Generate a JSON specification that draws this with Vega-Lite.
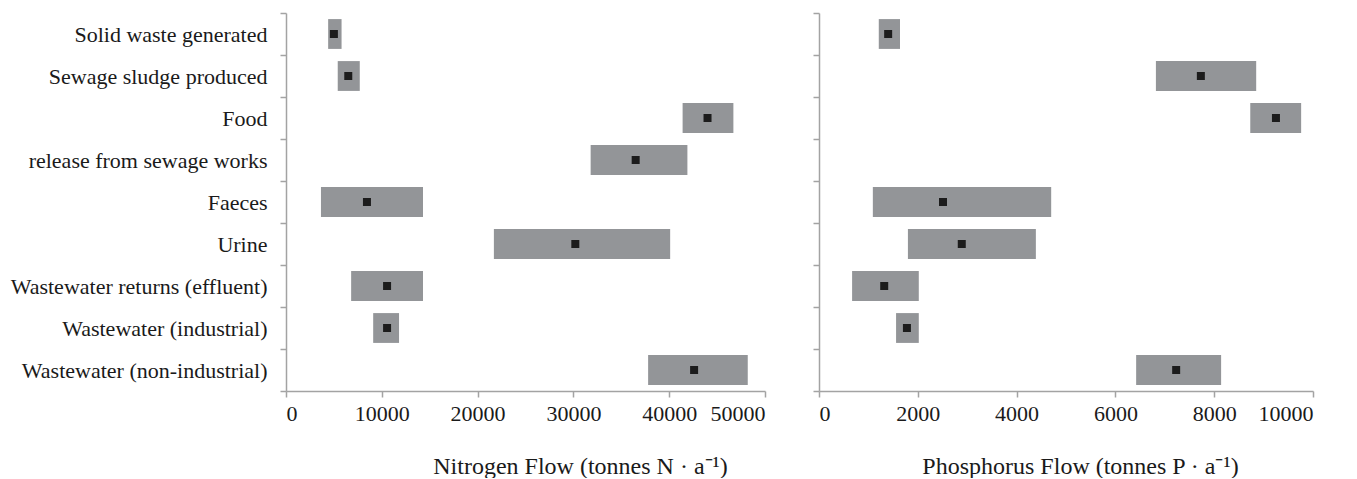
{
  "$schema": "https://vega.github.io/schema/vega-lite/v6.json",
  "background": "white",
  "padding": {"left": 10, "top": 2, "right": 5, "bottom": 0},
  "bounds": "flush",
  "spacing": 54,
  "config": {
    "view": {"stroke": null},
    "font": "Liberation Serif",
    "axis": {
      "grid": false,
      "domainColor": "#a3a3a3",
      "domainWidth": 1.5,
      "tickColor": "#a3a3a3",
      "tickWidth": 1.5,
      "tickSize": 6,
      "labelColor": "#1a1a1a",
      "labelFont": "Liberation Serif",
      "labelFontSize": 22,
      "titleFont": "Liberation Serif",
      "titleColor": "#1a1a1a",
      "titleFontSize": 24,
      "titleFontWeight": "normal"
    }
  },
  "data": {
    "values": [
      {"cat": "Solid waste generated", "n_lo": 4400, "n_mid": 5000, "n_hi": 5800, "p_lo": 1210, "p_mid": 1400, "p_hi": 1640},
      {"cat": "Sewage sludge produced", "n_lo": 5400, "n_mid": 6500, "n_hi": 7700, "p_lo": 6820, "p_mid": 7730, "p_hi": 8850},
      {"cat": "Food\u00a0", "n_lo": 41400, "n_mid": 44000, "n_hi": 46700, "p_lo": 8730, "p_mid": 9250, "p_hi": 9760},
      {"cat": "release from sewage works", "n_lo": 31800, "n_mid": 36500, "n_hi": 41900, "p_lo": null, "p_mid": null, "p_hi": null},
      {"cat": "Faeces", "n_lo": 3650, "n_mid": 8450, "n_hi": 14300, "p_lo": 1090, "p_mid": 2510, "p_hi": 4700},
      {"cat": "Urine", "n_lo": 21700, "n_mid": 30200, "n_hi": 40100, "p_lo": 1800, "p_mid": 2890, "p_hi": 4390},
      {"cat": "Wastewater returns (effluent)", "n_lo": 6800, "n_mid": 10550, "n_hi": 14300, "p_lo": 670, "p_mid": 1320, "p_hi": 2020},
      {"cat": "Wastewater (industrial)", "n_lo": 9100, "n_mid": 10550, "n_hi": 11800, "p_lo": 1560, "p_mid": 1780, "p_hi": 2020},
      {"cat": "Wastewater (non-industrial)", "n_lo": 37800, "n_mid": 42600, "n_hi": 48200, "p_lo": 6420, "p_mid": 7230, "p_hi": 8140}
    ]
  },
  "hconcat": [
    {
      "width": 479,
      "height": 378,
      "layer": [
        {
          "mark": {"type": "bar", "color": "#939598", "height": {"band": 0.71}},
          "encoding": {
            "y": {
              "field": "cat", "type": "nominal", "sort": null,
              "scale": {"domain": ["Solid waste generated", "Sewage sludge produced", "Food\u00a0", "release from sewage works", "Faeces", "Urine", "Wastewater returns (effluent)", "Wastewater (industrial)", "Wastewater (non-industrial)"], "paddingInner": 0, "paddingOuter": 0},
              "axis": {"title": null, "tickBand": "extent", "labelPadding": 13, "labelLimit": 400}
            },
            "x": {
              "field": "n_lo", "type": "quantitative",
              "scale": {"domain": [0, 50000], "nice": false},
              "axis": {"values": [0, 10000, 20000, 30000, 40000, 50000], "format": "d", "labelPadding": 6, "title": "Nitrogen Flow (tonnes N · a⁻¹)", "titleX": 294, "titleY": 82, "titleBaseline": "alphabetic"}
            },
            "x2": {"field": "n_hi"}
          }
        },
        {
          "mark": {"type": "point", "shape": "square", "filled": true, "size": 64, "color": "#1c1c1c", "opacity": 1},
          "encoding": {
            "y": {"field": "cat", "type": "nominal", "sort": null},
            "x": {"field": "n_mid", "type": "quantitative"}
          }
        }
      ]
    },
    {
      "width": 494,
      "height": 378,
      "layer": [
        {
          "mark": {"type": "bar", "color": "#939598", "height": {"band": 0.71}},
          "encoding": {
            "y": {
              "field": "cat", "type": "nominal", "sort": null,
              "scale": {"domain": ["Solid waste generated", "Sewage sludge produced", "Food\u00a0", "release from sewage works", "Faeces", "Urine", "Wastewater returns (effluent)", "Wastewater (industrial)", "Wastewater (non-industrial)"], "paddingInner": 0, "paddingOuter": 0},
              "axis": {"title": null, "tickBand": "extent", "labels": false}
            },
            "x": {
              "field": "p_lo", "type": "quantitative",
              "scale": {"domain": [0, 10000], "nice": false},
              "axis": {"values": [0, 2000, 4000, 6000, 8000, 10000], "format": "d", "labelPadding": 6, "title": "Phosphorus Flow (tonnes P · a⁻¹)", "titleX": 261, "titleY": 82, "titleBaseline": "alphabetic"}
            },
            "x2": {"field": "p_hi"}
          }
        },
        {
          "mark": {"type": "point", "shape": "square", "filled": true, "size": 64, "color": "#1c1c1c", "opacity": 1},
          "encoding": {
            "y": {"field": "cat", "type": "nominal", "sort": null},
            "x": {"field": "p_mid", "type": "quantitative"}
          }
        }
      ]
    }
  ]
}
